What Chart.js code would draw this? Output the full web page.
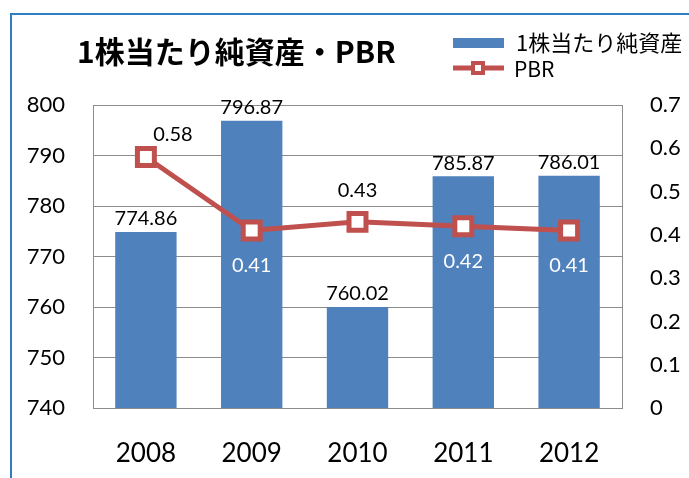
<!DOCTYPE html>
<html>
<head>
<meta charset="utf-8">
<script src="https://cdn.jsdelivr.net/npm/chart.js@4.4.0/dist/chart.umd.min.js"></script>
<style>
  body { margin: 0; background: #fff; }
  #wrap { position: relative; width: 689px; height: 478px; }
  #frame { position: absolute; left: 10px; top: 13px; width: 700px; height: 500px;
           border-left: 2px solid #2f7dc3; border-top: 2px solid #2f7dc3; }
  canvas { position: absolute; left: 0; top: 0; }
</style>
</head>
<body>
<div id="wrap">
  <div id="frame"></div>
  <canvas id="grafico" width="689" height="478"></canvas>
</div>
<script>
const anios = ['2008', '2009', '2010', '2011', '2012'];
const netoPorAccion = [774.86, 796.87, 760.02, 785.87, 786.01];
const pbr = [0.58, 0.41, 0.43, 0.42, 0.41];
const ticksIzq = ['740', '750', '760', '770', '780', '790', '800'];
const ticksDer = ['0', '0.1', '0.2', '0.3', '0.4', '0.5', '0.6', '0.7'];

const azul = '#4f81bd';
const rojo = '#c0504d';
const gris = '#8c8c8c';
const fuenteNum = 'Lato, "Open Sans", sans-serif';
const fuenteJp = '"Noto Sans CJK JP", sans-serif';

// donde va la etiqueta de cada punto de PBR
const posPbr = ['arribaDer', 'abajo', 'arriba', 'abajo', 'abajo'];

const etiquetas = {
  id: 'etiquetas',
  afterDatasetsDraw(chart) {
    const ctx = chart.ctx;
    ctx.save();
    ctx.textAlign = 'center';
    ctx.textBaseline = 'middle';
    ctx.font = '20px ' + fuenteNum;
    chart.getDatasetMeta(0).data.forEach((bar, i) => {
      ctx.fillStyle = '#000';
      ctx.fillText(netoPorAccion[i].toFixed(2), bar.x, bar.y - 13);
    });
    chart.getDatasetMeta(1).data.forEach((pt, i) => {
      const pos = posPbr[i];
      if (pos === 'abajo') {
        ctx.fillStyle = '#fff';
        ctx.fillText(pbr[i].toFixed(2), pt.x, pt.y + 35);
      } else if (pos === 'arriba') {
        ctx.fillStyle = '#000';
        ctx.fillText(pbr[i].toFixed(2), pt.x, pt.y - 31);
      } else {
        ctx.fillStyle = '#000';
        ctx.fillText(pbr[i].toFixed(2), pt.x + 27, pt.y - 22);
      }
    });
    ctx.restore();
  },
  afterDraw(chart) {
    const ctx = chart.ctx;
    ctx.save();
    // titulo
    ctx.fillStyle = '#000';
    ctx.textAlign = 'left';
    ctx.textBaseline = 'middle';
    ctx.font = 'bold 30px ' + fuenteJp;
    ctx.fillText('1株当たり純資産・PBR', 77, 52);
    // leyenda
    ctx.fillStyle = azul;
    ctx.fillRect(453, 38, 51, 10);
    ctx.fillStyle = '#000';
    ctx.font = '22px ' + fuenteJp;
    ctx.fillText('1株当たり純資産', 516, 43);
    ctx.strokeStyle = rojo;
    ctx.lineWidth = 5;
    ctx.beginPath();
    ctx.moveTo(453, 68);
    ctx.lineTo(504, 68);
    ctx.stroke();
    ctx.fillStyle = '#fff';
    ctx.lineWidth = 4;
    ctx.fillRect(473, 63, 10, 10);
    ctx.strokeRect(473, 63, 10, 10);
    ctx.fillStyle = '#000';
    ctx.font = '21px ' + fuenteJp;
    ctx.fillText('PBR', 514, 69);
    ctx.restore();
  }
};

new Chart(document.getElementById('grafico').getContext('2d'), {
  type: 'bar',
  data: {
    labels: anios,
    datasets: [
      {
        type: 'bar',
        label: '1株当たり純資産',
        data: netoPorAccion,
        backgroundColor: azul,
        yAxisID: 'y',
        barPercentage: 0.58,
        categoryPercentage: 1,
        order: 2
      },
      {
        type: 'line',
        label: 'PBR',
        data: pbr,
        borderColor: rojo,
        borderWidth: 5,
        pointStyle: 'rect',
        pointRadius: 12,
        pointBorderWidth: 5,
        pointBackgroundColor: '#fff',
        pointBorderColor: rojo,
        yAxisID: 'y2',
        order: 1
      }
    ]
  },
  options: {
    responsive: false,
    animation: false,
    layout: { padding: { top: 105, left: 0, right: 0, bottom: 0 } },
    plugins: { legend: { display: false }, title: { display: false }, tooltip: { enabled: false } },
    scales: {
      x: {
        grid: { display: false },
        border: { display: true, color: gris, width: 1 },
        ticks: { color: '#000', font: { size: 26, family: fuenteNum }, padding: 22 },
        afterFit(s) { s.height = 70; }
      },
      y: {
        position: 'left',
        min: 740,
        max: 800,
        ticks: {
          stepSize: 10,
          color: '#000',
          font: { size: 22, family: fuenteNum },
          padding: 28,
          callback: (v, i) => ticksIzq[i]
        },
        grid: { color: gris, lineWidth: 1, drawTicks: false },
        border: { display: true, color: gris, width: 1 },
        afterFit(s) { s.width = 93; }
      },
      y2: {
        position: 'right',
        min: 0,
        max: 0.7,
        ticks: {
          stepSize: 0.1,
          color: '#000',
          font: { size: 22, family: fuenteNum },
          padding: 28,
          callback: (v, i) => ticksDer[i]
        },
        grid: { display: false, drawTicks: false },
        border: { display: true, color: gris, width: 1 },
        afterFit(s) { s.width = 67; }
      }
    }
  },
  plugins: [etiquetas]
});
</script>
</body>
</html>
